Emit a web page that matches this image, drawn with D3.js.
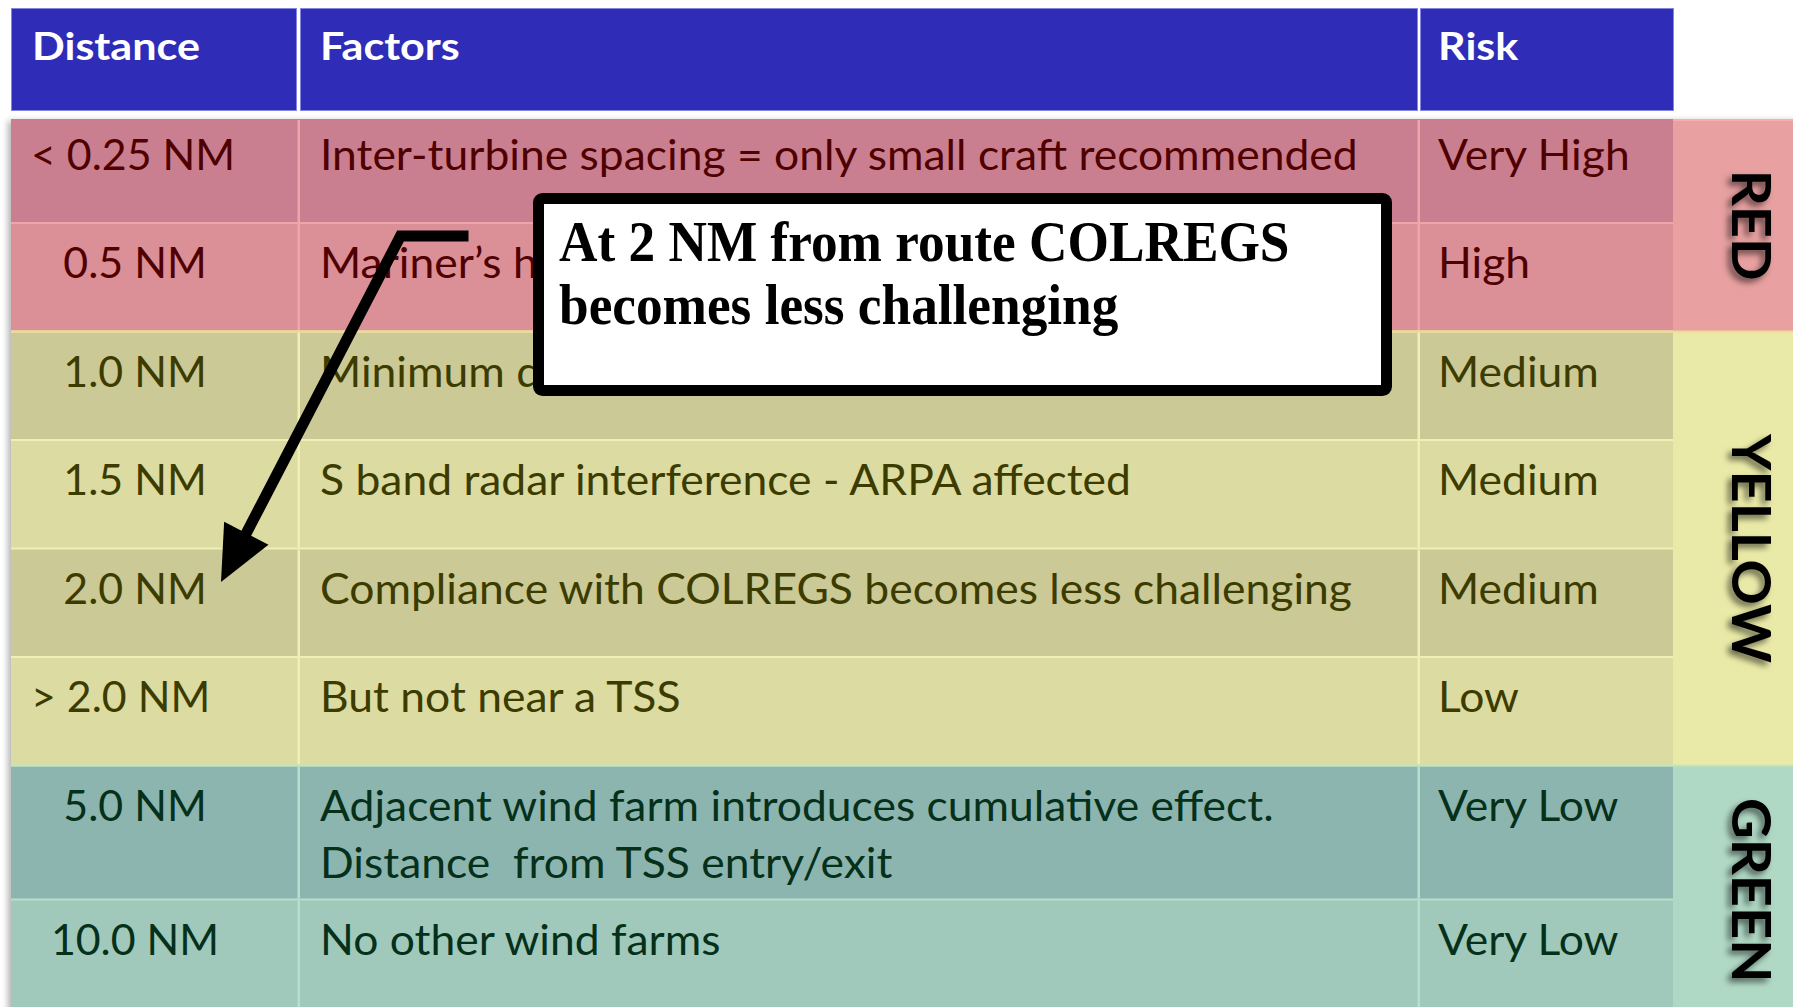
<!DOCTYPE html>
<html><head><meta charset="utf-8">
<script src="https://cdn.jsdelivr.net/npm/d3@7/dist/d3.min.js"></script>
<style>html,body{margin:0;padding:0;background:#fff;overflow:hidden} text{white-space:pre}</style>
</head><body>
<svg id="chart" width="1793" height="1007"></svg>
<script>
// ---------------- DATA ----------------
const headers = ["Distance", "Factors", "Risk"];
const distances = ["< 0.25 NM", "0.5 NM", "1.0 NM", "1.5 NM", "2.0 NM", "> 2.0 NM", "5.0 NM", "10.0 NM"];
const factors = [
  ["Inter-turbine spacing = only small craft recommended"],
  ["Mariner’s h"],
  ["Minimum d"],
  ["S band radar interference - ARPA affected"],
  ["Compliance with COLREGS becomes less challenging"],
  ["But not near a TSS"],
  ["Adjacent wind farm introduces cumulative effect.", "Distance  from TSS entry/exit"],
  ["No other wind farms"]
];
const risks = ["Very High", "High", "Medium", "Medium", "Medium", "Low", "Very Low", "Very Low"];
const zones = ["RED", "YELLOW", "GREEN"];
const zoneOfRow = ["RED", "RED", "YELLOW", "YELLOW", "YELLOW", "YELLOW", "GREEN", "GREEN"];
const calloutLines = ["At 2 NM from route COLREGS", "becomes less challenging"];
const calloutTarget = "2.0 NM";

// ---------------- STYLE ----------------
const W = 1793, H = 1007;
const zoneStyle = {
  RED:    {dark: "#C97F8F", light: "#DB8F96", band: "#E8A0A0", grid: "#EDA6A9", text: "#500000"},
  YELLOW: {dark: "#CBC996", light: "#DCDBA1", band: "#EAEAA8", grid: "#EFEFB6", text: "#3C3C00"},
  GREEN:  {dark: "#8DB5B0", light: "#A0C9BB", band: "#B0D9C5", grid: "#B7DFCB", text: "#05301A"}
};
const headerBlue = "#2F2DB8";
const bodyFont = "Lato";

const svg = d3.select("#chart");
const defs = svg.append("defs");
const f1 = defs.append("filter").attr("id", "tblShadow").attr("x", "-5%").attr("y", "-5%").attr("width", "110%").attr("height", "110%");
f1.append("feDropShadow").attr("dx", -3).attr("dy", 2).attr("stdDeviation", 3).attr("flood-color", "#000").attr("flood-opacity", 0.3);
const f2 = defs.append("filter").attr("id", "txtShadow").attr("x", "-30%").attr("y", "-30%").attr("width", "160%").attr("height", "160%");
f2.append("feDropShadow").attr("dx", -4).attr("dy", 4).attr("stdDeviation", 3).attr("flood-color", "#000").attr("flood-opacity", 0.55);

// column scales
const colStart = d3.scaleOrdinal().domain(headers).range([11, 299, 1419]);
const colEnd = d3.scaleOrdinal().domain(headers).range([299, 1419, 1673]);
const bandX0 = 1673, bandX1 = W;

// row scales
const headerTop = 8, headerBottom = 111, bodyTop = 119;
const singleH = 108.5;
const rowH = distances.map((d, i) => (i === 0 ? 104 : singleH) + (factors[i].length - 1) * 25.5);
const rowTops = [bodyTop, ...d3.cumsum(rowH).map(v => bodyTop + v)];
const yTop = d3.scaleOrdinal().domain(distances).range(rowTops.slice(0, -1));
const yBot = d3.scaleOrdinal().domain(distances).range(rowTops.slice(1));

// text fitting helpers
function measure(txt, fam, size, weight) {
  const t = svg.append("text").attr("font-family", fam).attr("font-size", size).attr("font-weight", weight).text(txt);
  const w = t.node().getComputedTextLength(); t.remove(); return w;
}
const bodySize = 42;
const kBody = 1038 / measure(factors[0][0], bodyFont, bodySize, 400);
const kDist = kBody * 0.965;
const headSize = 39;
const kHead = 168 / measure(headers[0], bodyFont, headSize, 700);
const zoneSize = 54;
const kZone = 229 / measure("YELLOW", bodyFont, zoneSize, 700);

// ---------------- HEADER ----------------
const head = svg.append("g");
head.selectAll("rect").data(headers).join("rect")
  .attr("x", d => colStart(d) + (d === headers[0] ? 0.5 : 1.5))
  .attr("y", headerTop + 0.5)
  .attr("width", d => colEnd(d) - colStart(d) - (d === headers[2] ? 1 : 3))
  .attr("height", headerBottom - headerTop - 1)
  .attr("fill", headerBlue).attr("stroke", "#8585E2").attr("stroke-width", 1);
head.selectAll("text").data(headers).join("text")
  .attr("transform", (d, i) => `translate(${colStart(d) + [21, 21, 19][i]},60) scale(${kHead},1)`)
  .attr("font-family", bodyFont).attr("font-size", headSize).attr("font-weight", 700)
  .attr("fill", "#fff").text(d => d);

// ---------------- BODY ----------------
const body = svg.append("g");
body.append("rect").attr("x", colStart(headers[0])).attr("y", bodyTop)
  .attr("width", bandX1 - colStart(headers[0]) + 20).attr("height", H - bodyTop + 20)
  .attr("fill", "#fff").attr("filter", "url(#tblShadow)");

// zone bands at right
const zoneRows = zones.map(z => distances.filter((d, i) => zoneOfRow[i] === z));
const zoneY0 = zones.map((z, k) => yTop(zoneRows[k][0]));
const zoneY1 = zones.map((z, k) => k === zones.length - 1 ? H + 5 : yBot(zoneRows[k][zoneRows[k].length - 1]));
body.selectAll("rect.band").data(zones).join("rect").attr("class", "band")
  .attr("x", bandX0).attr("width", bandX1 - bandX0 + 5)
  .attr("y", (z, k) => zoneY0[k]).attr("height", (z, k) => zoneY1[k] - zoneY0[k])
  .attr("fill", z => zoneStyle[z].band);
body.append("rect").attr("x", bandX0).attr("y", bodyTop).attr("width", bandX1 - bandX0).attr("height", 2).attr("fill", "#F7AEAE");

// cells
const rows = body.selectAll("g.row").data(distances).join("g").attr("class", "row");
rows.append("rect")
  .attr("x", colStart(headers[0])).attr("y", d => yTop(d))
  .attr("width", bandX0 - colStart(headers[0])).attr("height", d => yBot(d) - yTop(d))
  .attr("fill", (d, i) => i % 2 === 0 ? zoneStyle[zoneOfRow[i]].dark : zoneStyle[zoneOfRow[i]].light);
rows.filter((d, i) => i > 0).append("rect")
  .attr("x", colStart(headers[0])).attr("y", d => yTop(d) - 1)
  .attr("width", bandX0 - colStart(headers[0])).attr("height", 2)
  .attr("fill", d => zoneStyle[zoneOfRow[distances.indexOf(d)]].grid);
[headers[1], headers[2]].forEach(h => {
  rows.append("rect").attr("x", colStart(h) - 1.5).attr("width", 2.5)
    .attr("y", d => yTop(d) + 1).attr("height", d => yBot(d) - yTop(d) - 2)
    .attr("fill", (d, i) => zoneStyle[zoneOfRow[i]].grid);
});
body.append("rect").attr("x", colStart(headers[0])).attr("y", zoneY0[1] - 1)
  .attr("width", bandX1 - colStart(headers[0])).attr("height", 2).attr("fill", "#F0D896");
body.append("rect").attr("x", colStart(headers[0])).attr("y", zoneY0[2] - 1)
  .attr("width", bandX1 - colStart(headers[0])).attr("height", 2).attr("fill", "#C9E3B4");

// first-line baseline: fixed distance above a single-line row's bottom
const baseline = (d, i) => yTop(d) + (i === 0 ? 104 : singleH) - 53.5;
const lineGap = 57;
const distCenter = 135, distLeft = 31;
const isBound = d => /^[<>]/.test(d);
rows.append("text")
  .attr("transform", (d, i) => `translate(${isBound(d) ? distLeft : distCenter},${baseline(d, i)}) scale(${kDist},1)`)
  .attr("text-anchor", d => isBound(d) ? "start" : "middle")
  .attr("font-family", bodyFont).attr("font-size", bodySize)
  .attr("fill", (d, i) => zoneStyle[zoneOfRow[i]].text).text(d => d);
rows.each(function (d, i) {
  d3.select(this).selectAll("text.f").data(factors[i]).join("text").attr("class", "f")
    .attr("transform", (t, j) => `translate(${colStart(headers[1]) + 21},${baseline(d, i) + j * lineGap}) scale(${kBody},1)`)
    .attr("font-family", bodyFont).attr("font-size", bodySize)
    .attr("fill", zoneStyle[zoneOfRow[i]].text).text(t => t);
});
rows.append("text")
  .attr("transform", (d, i) => `translate(${colStart(headers[2]) + 19},${baseline(d, i)}) scale(${kBody},1)`)
  .attr("font-family", bodyFont).attr("font-size", bodySize)
  .attr("fill", (d, i) => zoneStyle[zoneOfRow[i]].text).text((d, i) => risks[i]);

// zone labels
zones.forEach((z, k) => {
  const cy = (zoneY0[k] + Math.min(zoneY1[k], H)) / 2 + (k === 2 ? 4 : 0);
  svg.append("g").attr("filter", "url(#txtShadow)")
    .append("text")
    .attr("transform", `translate(1732,${cy}) rotate(90) scale(${kZone},1)`)
    .attr("text-anchor", "middle")
    .attr("font-family", bodyFont).attr("font-size", zoneSize).attr("font-weight", 700)
    .attr("fill", "#000").text(z);
});

// ---------------- CALLOUT ----------------
const boxL = colStart(headers[1]) + 239.5, boxR = colStart(headers[2]) - 32.5;
const boxT = yTop(distances[1]) - 24.5, boxB = yTop(distances[2]) + 59;
svg.append("rect").attr("x", boxL).attr("y", boxT).attr("width", boxR - boxL).attr("height", boxB - boxT)
  .attr("rx", 4).attr("fill", "#fff").attr("stroke", "#000").attr("stroke-width", 11);
const kCall = 0.935;
svg.selectAll("text.call").data(calloutLines).join("text").attr("class", "call")
  .attr("transform", (d, j) => `translate(${boxL + 20.5},${boxT + 62 + j * 63}) scale(${kCall},1)`)
  .attr("font-family", "Liberation Serif, Times New Roman, serif").attr("font-size", 57).attr("font-weight", 700)
  .attr("fill", "#000").text(d => d);

// arrow from callout to the target row
const tipX = distCenter + 86, tipY = yTop(calloutTarget) + 33.5;
const startX = boxL - 70, startY = boxT + 37.5;
const cornerX = startX - 68;
const ang = Math.atan2(tipY - startY, tipX - cornerX);
const headLen = 55, headHalf = 25;
const baseX = tipX - headLen * Math.cos(ang), baseY = tipY - headLen * Math.sin(ang);
svg.append("path")
  .attr("d", d3.line()([[startX, startY], [cornerX, startY], [baseX + 6 * Math.cos(ang), baseY + 6 * Math.sin(ang)]]))
  .attr("fill", "none").attr("stroke", "#000").attr("stroke-width", 11).attr("stroke-linejoin", "miter");
const nx = -Math.sin(ang), ny = Math.cos(ang);
svg.append("path")
  .attr("d", d3.line()([[tipX, tipY], [baseX + nx * headHalf, baseY + ny * headHalf], [baseX - nx * headHalf, baseY - ny * headHalf]]) + "Z")
  .attr("fill", "#000");
</script>
</body></html>
